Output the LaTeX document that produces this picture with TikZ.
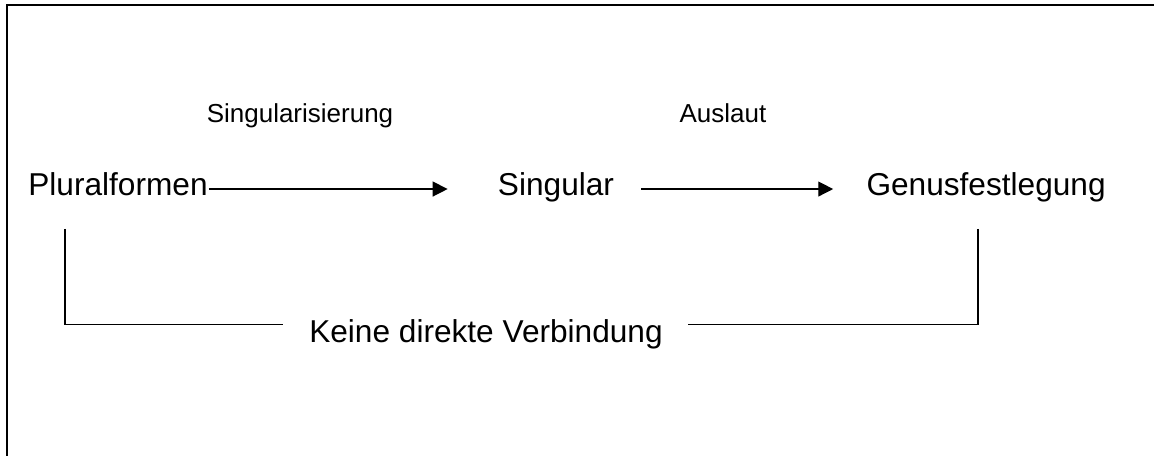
\documentclass[tikz,border=0pt]{standalone}
\usepackage{fontspec}
\setmainfont{Liberation Sans}
\usetikzlibrary{arrows.meta}
\begin{document}
\begin{tikzpicture}[x=0.02cm, y=-0.02cm, >={Triangle[length=8.5pt,width=8.5pt]}]
\tikzstyle{every node}=[inner sep=0pt,anchor=base]
\tikzstyle{big}=[font=\fontsize{18}{21}\selectfont]
\tikzstyle{small}=[font=\fontsize{14.8}{17}\selectfont]
\tikzstyle{line}=[line width=0.75pt]
\useasboundingbox (0,0) rectangle (1154,456);
\draw[line width=1.5pt] (1160,5) -- (7,5) -- (7,462);
\node[big](plural) at (118,195) {Pluralformen};
\node[big](singular) at (556,195) {Singular};
\node[big,anchor=base east](genus) at (1106,195) {Genusfestlegung};
\node[small](singlab) at (300,123) {Singularisierung};
\node[small](auslab) at (723,123) {Auslaut};
\node[big](keine) at (486,342) {Keine direkte Verbindung};
\coordinate (lt) at (65,229);
\coordinate (rt) at (978,229);
\draw[line,->,shorten <=0.02cm,shorten >=1.0cm] ([yshift=3.4pt]plural.base east) -- ([yshift=3.4pt]singular.base west);
\draw[line,->,shorten <=0.54cm,shorten >=0.66cm] ([yshift=3.4pt]singular.base east) -- ([yshift=3.4pt]genus.base west);
\draw[line,shorten >=0.52cm] (lt) |- ([yshift=5.2pt]keine.west);
\draw[line,shorten >=0.5cm] (rt) |- ([yshift=5.2pt]keine.east);
\end{tikzpicture}
\end{document}
